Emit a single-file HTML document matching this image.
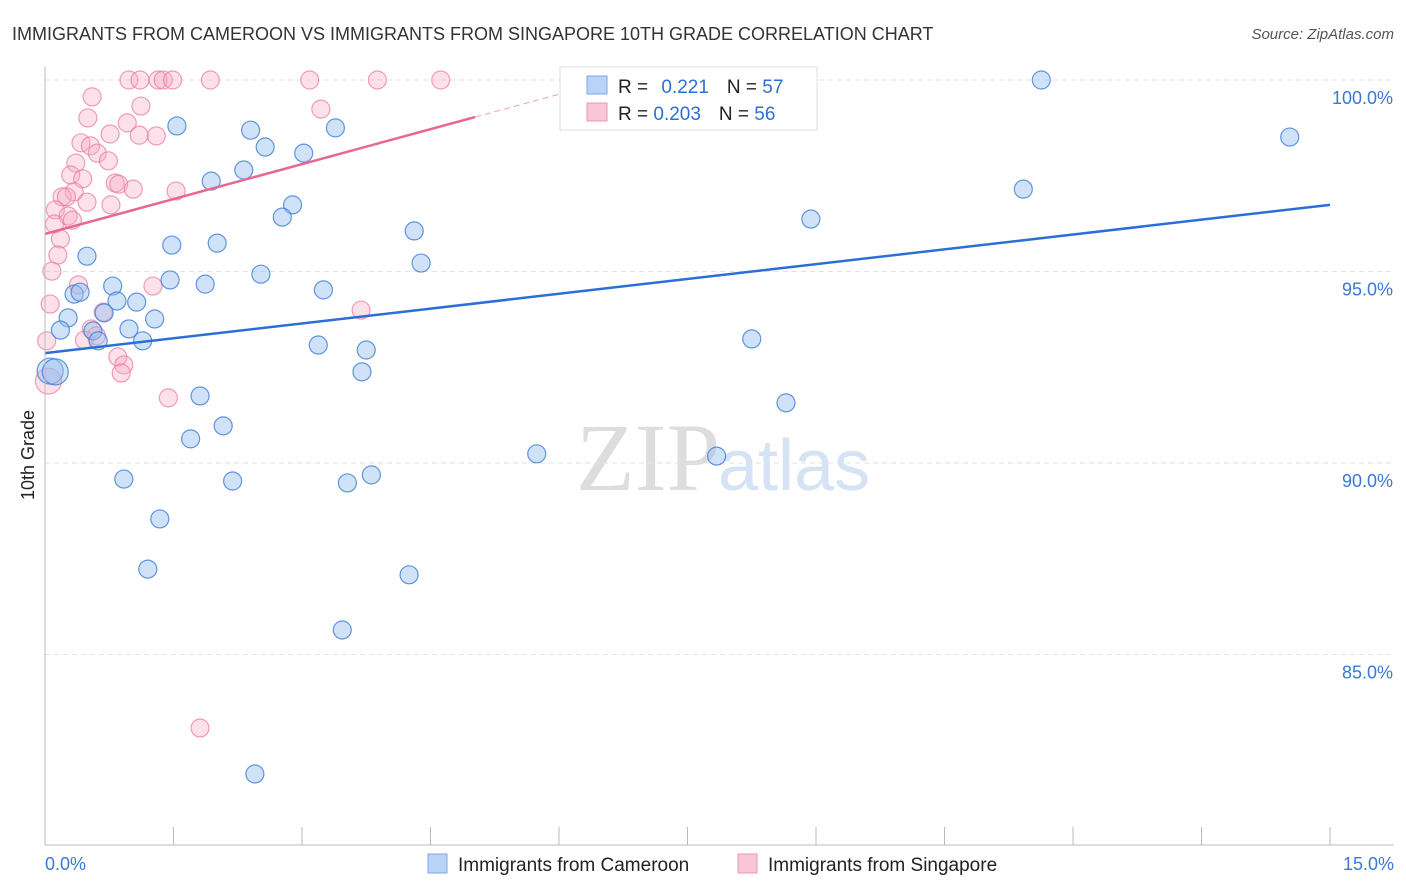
<!DOCTYPE html>
<html><head><meta charset="utf-8"><style>
body{margin:0;background:#fff;font-family:"Liberation Sans",sans-serif;}
#wrap{position:relative;width:1406px;height:892px;overflow:hidden;}
</style></head><body>
<div id="wrap">
<svg id="svg" width="1406" height="892">
<text x="12" y="40" font-size="18" fill="#333">IMMIGRANTS FROM CAMEROON VS IMMIGRANTS FROM SINGAPORE 10TH GRADE CORRELATION CHART</text>
<text x="1394" y="39" font-size="15" fill="#555" font-style="italic" text-anchor="end">Source: ZipAtlas.com</text>
<text x="720" y="490" font-size="96" fill="#ddd" text-anchor="end" font-family="Liberation Serif">ZIP</text>
<text x="718" y="490" font-size="72" fill="#d6e3f5">atlas</text>
<text transform="translate(34,455) rotate(-90)" font-size="18" fill="#222" text-anchor="middle">10th Grade</text>
<g id="grid"></g><g id="pts"></g><g id="lines"></g><g id="axes"></g>
<g>
<rect x="560" y="67" width="257" height="63" fill="#fff" stroke="#ddd"/>
<rect x="587" y="76" width="20" height="18" fill="#b8d3f5" stroke="#7aa7e6"/>
<rect x="587" y="103" width="20" height="18" fill="#f9c6d5" stroke="#ee97b2"/>
<text x="618" y="93" font-size="19" fill="#222">R = <tspan fill="#2b6fd6" dx="8">0.221</tspan><tspan fill="#222" dx="18">N = </tspan><tspan fill="#2b6fd6">57</tspan></text>
<text x="618" y="120" font-size="19" fill="#222">R = <tspan fill="#2b6fd6">0.203</tspan><tspan fill="#222" dx="18">N = </tspan><tspan fill="#2b6fd6">56</tspan></text>
</g>
<g>
<rect x="428" y="854" width="19" height="19" fill="#b8d3f5" stroke="#7aa7e6"/>
<text x="458" y="871" font-size="19" fill="#222">Immigrants from Cameroon</text>
<rect x="738" y="854" width="19" height="19" fill="#f9c6d5" stroke="#ee97b2"/>
<text x="768" y="871" font-size="19" fill="#222">Immigrants from Singapore</text>
</g>
</svg>
</div>
<script>
const blueX=[11.63,14.53,11.42,8.94,1.54,2.40,2.57,3.39,3.02,2.32,1.94,2.89,2.77,4.31,4.39,1.48,2.01,0.49,2.52,1.46,1.87,0.79,0.34,0.41,3.25,0.84,1.07,1.28,0.27,0.18,0.56,0.69,0.98,0.62,1.14,3.19,3.75,8.25,3.70,0.06,0.12,1.81,8.65,2.08,1.70,5.74,7.84,0.92,2.19,3.53,3.81,1.34,1.20,4.25,3.47,2.45];
const blueY=[100,98.51,97.15,96.37,98.80,98.69,98.25,98.75,98.09,97.65,97.36,96.74,96.42,96.06,95.22,95.69,95.74,95.40,94.93,94.78,94.67,94.62,94.41,94.46,94.52,94.23,94.20,93.76,93.79,93.47,93.45,93.92,93.50,93.19,93.19,93.08,92.95,93.24,92.38,92.40,92.38,91.75,91.57,90.97,90.63,90.24,90.18,89.58,89.53,89.48,89.69,88.54,87.23,87.08,85.64,81.88];
const pinkX=[0.98,1.11,1.32,1.38,1.49,1.93,3.09,3.88,4.62,0.55,1.12,3.22,0.50,0.96,0.76,1.10,1.30,0.42,0.53,0.61,0.36,0.74,0.30,0.44,0.82,0.86,1.03,1.53,0.34,0.20,0.25,0.49,0.77,0.12,0.27,0.32,0.11,0.18,0.15,0.08,0.39,1.26,0.06,3.69,0.68,0.54,0.60,0.46,0.02,0.85,0.92,0.89,0.04,1.44,1.81];
const pinkY=[100,100,100,100,100,100,100,100,100,99.56,99.32,99.24,99.01,98.88,98.59,98.56,98.54,98.36,98.28,98.09,97.83,97.89,97.52,97.42,97.31,97.28,97.15,97.10,97.08,96.95,96.95,96.81,96.74,96.61,96.45,96.34,96.24,95.85,95.43,95.01,94.65,94.62,94.15,93.99,93.94,93.50,93.32,93.21,93.19,92.77,92.56,92.35,92.14,91.70,83.08];
const blueTrend=[92.87,96.74];
const pinkTrend=[95.98,0.608];
const yTicks=[100,95,90,85];
const xTickLabels=["0.0%","15.0%"];
const NS="http://www.w3.org/2000/svg";
const X0=45,X1=1330,Y0=845;
const sx=v=>X0+v/15*(X1-X0);
const sy=v=>80+(100-v)*38.3;
function mk(tag,attrs,parent,text){const e=document.createElementNS(NS,tag);for(const k in attrs)e.setAttribute(k,attrs[k]);if(text!==undefined)e.textContent=text;document.getElementById(parent).appendChild(e);return e;}
yTicks.forEach(t=>{
 const g=mk('line',{x1:X0,x2:1394,y1:sy(t),y2:sy(t),stroke:'#e2e2e2','stroke-dasharray':'5,4'},'grid');
 
 
 const l=mk('text',{x:1393,y:sy(t)+24,'font-size':18,fill:'#3a78d4','text-anchor':'end'},'axes',t.toFixed(1)+'%');
 
 
});
const ya=mk('line',{x1:X0,x2:X0,y1:67,y2:Y0,stroke:'#bbb'},'axes');


const xa=mk('line',{x1:X0,x2:1394,y1:Y0,y2:Y0,stroke:'#bbb'},'axes');


for(let i=0;i<=10;i++){const t=mk('line',{x1:sx(i*1.5),x2:sx(i*1.5),y1:Y0,y2:Y0-18,stroke:'#bbb'},'axes');
 
 }
const xl0=mk('text',{x:45,y:870,'font-size':18,fill:'#3a78d4'},'axes',xTickLabels[0]);


const xl1=mk('text',{x:1394,y:870,'font-size':18,fill:'#3a78d4','text-anchor':'end'},'axes',xTickLabels[1]);


function dots(xs,ys,fill,stroke,name){xs.forEach((x,i)=>{
 const big=(x<0.13&&ys[i]<92.5&&ys[i]>92);
 const c=mk('circle',{cx:sx(x),cy:sy(ys[i]),r:big?13:9,fill:fill,stroke:stroke,'stroke-width':1.2},'pts');
 
 });}
dots(pinkX,pinkY,'rgba(246,170,195,0.35)','rgba(232,120,155,0.7)','point-singapore');
dots(blueX,blueY,'rgba(150,190,240,0.45)','rgba(60,125,215,0.8)','point-cameroon');
const bl=mk('line',{x1:sx(0),y1:sy(blueTrend[0]),x2:sx(15),y2:sy(blueTrend[1]),stroke:'#2b6fd6','stroke-width':2.5},'lines');


const pe=5.02,pd=(100-pinkTrend[0])/pinkTrend[1];
const pl=mk('line',{x1:sx(0),y1:sy(pinkTrend[0]),x2:sx(pe),y2:sy(pinkTrend[0]+pinkTrend[1]*pe),stroke:'#e8668f','stroke-width':2.5},'lines');


const pd2=mk('line',{x1:sx(pe),y1:sy(pinkTrend[0]+pinkTrend[1]*pe),x2:sx(pd),y2:sy(100),stroke:'#f0a0b8','stroke-width':1,'stroke-dasharray':'6,4'},'lines');


</script>
</body></html>
